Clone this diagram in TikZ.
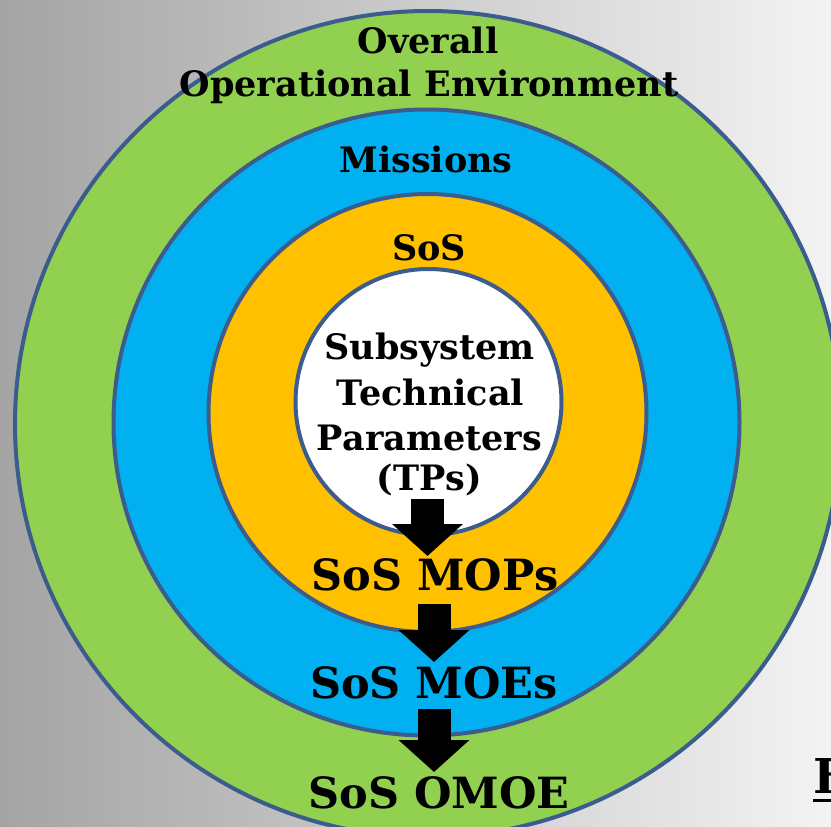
\documentclass[tikz,border=0pt]{standalone}
\usepackage{fontspec}
\setmainfont{DejaVu Serif}
\usetikzlibrary{arrows.meta}

\definecolor{ringgreen}{RGB}{146,208,80}
\definecolor{ringblue}{RGB}{0,176,240}
\definecolor{ringorange}{RGB}{255,192,0}
\definecolor{ringline}{RGB}{59,92,140}
\definecolor{bgdark}{RGB}{164,164,164}
\definecolor{bglight}{RGB}{243,243,243}

\begin{document}
\begin{tikzpicture}[x=1pt,y=-1pt,
  ring/.style={circle,draw=ringline,line width=4pt,inner sep=0pt},
  lbl/.style={font=\bfseries\fontsize{35}{44}\selectfont,inner sep=0pt,text depth=0pt},
  biglbl/.style={font=\bfseries\fontsize{43}{50}\selectfont,inner sep=0pt,text depth=0pt},
  flow/.style={line width=33pt,-{Triangle[width=69pt,length=32pt]}}]
\useasboundingbox (0,0) rectangle (831,827);
\clip (0,0) rectangle (831,827);
\shade[left color=bgdark,right color=bglight] (0,0) rectangle (831,827);

% rings
\node[ring,fill=ringgreen,minimum size=826pt] (env) at (428,424) {};
\node[ring,fill=ringblue,minimum size=626pt] (mis) at (426.5,422.5) {};
\node[ring,fill=ringorange,minimum size=438pt] (sos) at (427.5,413) {};
\node[ring,fill=white,minimum size=266pt] (sub) at (428.5,402) {};

% ring titles
\node[lbl,anchor=base] (overall) at (428,53) {Overall};
\node[lbl,anchor=base] (openv) at (429,96) {Operational Environment};
\node[lbl,anchor=base] (mislbl) at (426,172) {Missions};
\node[lbl,anchor=base] (soslbl) at (429,260) {SoS};
\node[lbl,anchor=base] (tp1) at (429.5,359) {Subsystem};
\node[lbl,anchor=base] (tp2) at (430.5,405) {Technical};
\node[lbl,anchor=base] (tp3) at (429.5,450) {Parameters};
\node[lbl,anchor=base] (tps) at (429.5,490) {(TPs)};

% measures
\node[biglbl,anchor=base] (mops) at (435,590) {SoS MOPs};
\node[biglbl,anchor=base] (moes) at (434,698) {SoS MOEs};
\node[biglbl,anchor=base] (omoe) at (439,808) {SoS OMOE};

% flow arrows
\draw[flow] ([xshift=-2pt,yshift=-9pt]tps.base) -- ([xshift=-2pt,yshift=34pt]tps.base |- mops.base);
\draw[flow] ([xshift=-1pt,yshift=-14pt]mops.base) -- ([xshift=-1pt,yshift=36pt]mops.base |- moes.base);
\draw[flow] ([yshift=-11pt]moes.base) -- ([yshift=36pt]moes.base |- omoe.base);

% next slide text, cut off
\node[font=\bfseries\fontsize{48}{48}\selectfont,inner sep=0pt,anchor=base west] (nxt) at (813,793) {F};
\draw[line width=3pt] ([yshift=-7pt]nxt.base west) -- ([yshift=-7pt]nxt.base east);
\end{tikzpicture}
\end{document}
